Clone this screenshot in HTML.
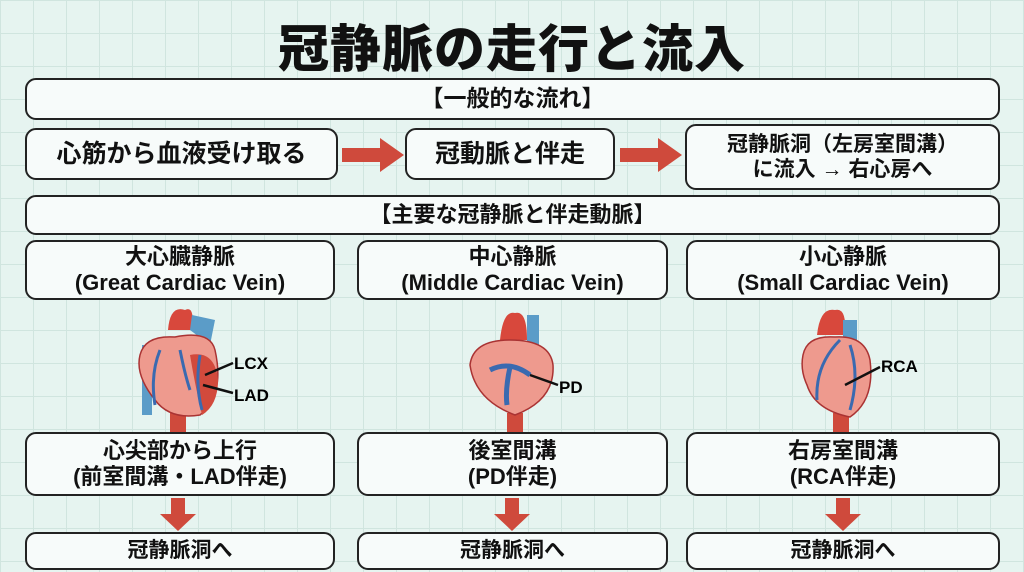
<!DOCTYPE html>
<html><head><meta charset="utf-8"><style>
*{margin:0;padding:0;box-sizing:border-box}
body{width:1024px;height:572px;overflow:hidden;position:relative;font-family:"Liberation Sans","Noto Sans CJK JP",sans-serif;font-weight:bold;color:#111;
background-color:#e6f4f0;
background-image:linear-gradient(#d0e5df 1px,transparent 1px),linear-gradient(90deg,#d0e5df 1px,transparent 1px);background-size:33px 33px}
.b{position:absolute;background:#f7fbfa;border:2.5px solid #222;border-radius:11px;display:flex;align-items:center;justify-content:center;text-align:center;line-height:1.2}
.t{position:absolute;left:0;width:1024px;top:8px;text-align:center;font-size:51px;font-weight:900;letter-spacing:1px}
svg{position:absolute}
</style></head><body>
<div class="t">冠静脈の走行と流入</div>
<div class="b" style="left:25px;top:78px;width:975px;height:42px;font-size:23px">【一般的な流れ】</div>
<div class="b" style="left:25px;top:128px;width:313px;height:52px;font-size:25px">心筋から血液受け取る</div>
<div class="b" style="left:405px;top:128px;width:210px;height:52px;font-size:25px">冠動脈と伴走</div>
<div class="b" style="left:685px;top:124px;width:315px;height:66px;font-size:21px">冠静脈洞（左房室間溝）<br>に流入 → 右心房へ</div>
<svg style="left:340px;top:136px" width="66" height="38"><polygon points="2,12 40,12 40,2 64,19 40,36 40,26 2,26" fill="#cf4a3c"/></svg>
<svg style="left:618px;top:136px" width="66" height="38"><polygon points="2,12 40,12 40,2 64,19 40,36 40,26 2,26" fill="#cf4a3c"/></svg>
<div class="b" style="left:25px;top:195px;width:975px;height:40px;font-size:22px">【主要な冠静脈と伴走動脈】</div>
<div class="b" style="left:25px;top:240px;width:310px;height:60px;font-size:22px">大心臓静脈<br>(Great Cardiac Vein)</div>
<div class="b" style="left:357px;top:240px;width:311px;height:60px;font-size:22px">中心静脈<br>(Middle Cardiac Vein)</div>
<div class="b" style="left:686px;top:240px;width:314px;height:60px;font-size:22px">小心静脈<br>(Small Cardiac Vein)</div>

<svg style="left:130px;top:305px" width="160" height="130">
<rect x="40" y="108" width="16" height="22" fill="#cf4a3c"/>
<rect x="12" y="40" width="10" height="70" fill="#5b9cc8"/>
<path d="M38 25 Q40 0 55 5 Q65 0 62 25 Z" fill="#d8483c"/>
<path d="M60 25 L62 10 L85 15 L80 40 Z" fill="#5b9cc8"/>
<path d="M10 50 Q15 30 45 32 Q80 25 85 45 Q95 90 70 110 Q40 115 25 95 Q5 70 10 50Z" fill="#ee9a8e" stroke="#a33" stroke-width="1.5"/>
<path d="M60 50 Q85 45 88 75 Q88 100 72 110 Q65 80 60 50Z" fill="#d24a3c"/>
<path d="M30 45 Q20 70 25 100 M50 45 Q55 70 60 85 M70 50 Q65 80 72 105" stroke="#3a6ab0" stroke-width="3" fill="none"/>
<line x1="75" y1="70" x2="103" y2="58" stroke="#111" stroke-width="2.5"/><line x1="73" y1="80" x2="103" y2="88" stroke="#111" stroke-width="2.5"/>
<text x="104" y="64" font-size="17" font-weight="bold" font-family="Liberation Sans">LCX</text>
<text x="104" y="96" font-size="17" font-weight="bold" font-family="Liberation Sans">LAD</text>
</svg>
<svg style="left:465px;top:305px" width="140" height="130">
<rect x="42" y="108" width="16" height="22" fill="#cf4a3c"/>
<path d="M35 35 Q38 5 50 8 Q62 5 62 35 Z" fill="#d8483c"/>
<rect x="62" y="10" width="12" height="30" fill="#5b9cc8"/>
<path d="M5 60 Q8 35 45 35 Q85 35 88 60 Q90 95 50 110 Q10 95 5 60Z" fill="#ee9a8e" stroke="#a33" stroke-width="1.5"/>
<path d="M25 65 Q45 55 65 70 M45 62 Q40 85 42 100" stroke="#3a6ab0" stroke-width="5" fill="none"/>
<line x1="65" y1="70" x2="93" y2="80" stroke="#111" stroke-width="2.5"/>
<text x="94" y="88" font-size="17" font-weight="bold" font-family="Liberation Sans">PD</text>
</svg>
<svg style="left:795px;top:305px" width="150" height="130">
<rect x="38" y="108" width="16" height="22" fill="#cf4a3c"/>
<path d="M22 30 Q25 2 40 5 Q52 2 50 30 Z" fill="#d8483c"/>
<rect x="48" y="15" width="14" height="25" fill="#5b9cc8"/>
<path d="M8 50 Q12 30 40 32 Q70 30 75 55 Q80 95 55 112 Q20 105 12 80 Q5 65 8 50Z" fill="#ee9a8e" stroke="#a33" stroke-width="1.5"/>
<path d="M45 35 Q20 60 22 95 M55 40 Q65 70 55 105" stroke="#3a6ab0" stroke-width="3" fill="none"/>
<line x1="50" y1="80" x2="85" y2="62" stroke="#111" stroke-width="2.5"/>
<text x="86" y="67" font-size="17" font-weight="bold" font-family="Liberation Sans">RCA</text>
</svg>

<div class="b" style="left:25px;top:432px;width:310px;height:64px;font-size:22px">心尖部から上行<br>(前室間溝・LAD伴走)</div>
<div class="b" style="left:357px;top:432px;width:311px;height:64px;font-size:22px">後室間溝<br>(PD伴走)</div>
<div class="b" style="left:686px;top:432px;width:314px;height:64px;font-size:22px">右房室間溝<br>(RCA伴走)</div>
<svg style="left:158px;top:498px" width="40" height="34"><polygon points="13,0 27,0 27,16 38,16 20,33 2,16 13,16" fill="#cf4a3c"/></svg>
<svg style="left:492px;top:498px" width="40" height="34"><polygon points="13,0 27,0 27,16 38,16 20,33 2,16 13,16" fill="#cf4a3c"/></svg>
<svg style="left:823px;top:498px" width="40" height="34"><polygon points="13,0 27,0 27,16 38,16 20,33 2,16 13,16" fill="#cf4a3c"/></svg>
<div class="b" style="left:25px;top:532px;width:310px;height:38px;font-size:21px">冠静脈洞へ</div>
<div class="b" style="left:357px;top:532px;width:311px;height:38px;font-size:21px">冠静脈洞へ</div>
<div class="b" style="left:686px;top:532px;width:314px;height:38px;font-size:21px">冠静脈洞へ</div>
</body></html>
